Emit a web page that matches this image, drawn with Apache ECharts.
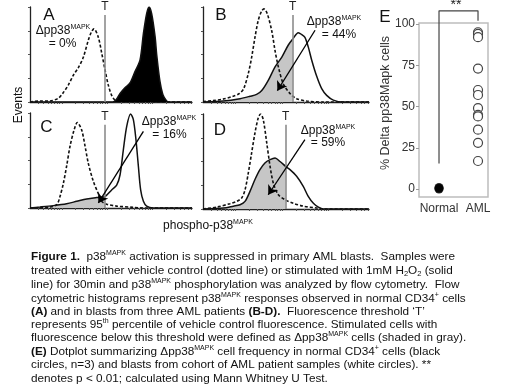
<!DOCTYPE html>
<html><head><meta charset="utf-8">
<script src="https://cdn.jsdelivr.net/npm/echarts@6/dist/echarts.min.js"></script>
<style>html,body{margin:0;padding:0;background:#fff}#c{width:520px;height:390px}</style>
</head><body><div id="c"></div>
<script>
// ---------- DATA ----------
// Histogram x = fluorescence position (0..100 of axis), y = % of panel height
const aControl = [[0,0],[6,1],[12,1],[17.5,4],[20.6,10],[23.7,18],[26.7,28],[29.8,36],[32.9,47],[36,65],[38,74],[39.5,77],[42.2,68],[44.2,52],[46.3,34],[48.3,18],[50.4,7],[52.5,2],[55.6,0.5],[60,0],[100,0]];
const aStim = [[0,0],[51,0],[53,2],[55.6,9],[58.6,15],[61.7,20],[64.8,32],[67.9,44],[70,72],[72,93],[73.5,100],[75.1,93],[77.2,69],[78.2,50],[80.2,22],[82,8],[84,2],[85.5,0],[100,0]];
const bControl = [[0,0.5],[6,1.5],[12,3],[18,6],[22,9],[24.5,14],[27.3,30],[29.3,47],[31.3,68],[33.3,86],[35.4,96],[36.7,98],[38.7,93],[41.4,75],[43.4,54],[45.4,37],[48.4,19],[52.4,9],[56.4,3.5],[62.5,1],[72.5,0],[100,0]];
const bStim = [[0,0],[12.2,1],[22.3,3.5],[28.3,6],[32.3,8],[35.4,12],[39.4,23],[43.4,37],[47.4,47],[51.4,60],[54,66],[57.4,73],[59.5,71],[61.4,68],[63.4,58],[65.5,44],[68.5,27],[71.5,14],[74.5,7],[78.5,2],[84.5,0],[100,0]];
const cControl = [[0,0],[12.3,1],[16.5,3.5],[18.5,12],[20.6,26],[22.6,44],[24.7,65],[27.2,82],[29.2,90],[31.9,82],[34,65],[36,47],[39.1,28],[42.2,15],[44.2,7],[47.3,4],[53.5,2],[63.8,0.7],[70,0],[100,0]];
const cStim = [[0,0],[6.2,1],[14.4,2.5],[22.6,4.5],[28.8,7],[35,9.5],[41.2,11],[44.2,11.5],[46.3,12],[50.4,19],[53.5,24],[55.6,35],[57.6,61],[59.7,86],[62.1,99],[63.8,93],[65.4,72],[66.9,44],[68.3,19],[70,7],[72,2],[76,0],[100,0]];
const dControl = [[0,0],[8.2,2],[16.3,5.6],[20.3,8],[23.3,11.6],[25.3,20],[27.3,38],[29.3,59],[31.3,80],[33.3,96],[34.7,100],[36.3,94],[38.4,69.5],[40.4,45],[42.4,27],[45.4,15],[49.4,9.8],[54.4,6],[60.4,3],[68.5,1],[72.5,0],[100,0]];
const dStim = [[0,0],[12.3,1],[18.3,3],[22.3,4.5],[25.3,8],[28.3,18.5],[31.3,31],[34.3,41.4],[37.3,48.4],[40.4,51.9],[43.4,53.6],[46.4,50],[49.8,44.8],[52.4,41.4],[56.4,34.4],[60.4,23.8],[63.4,13.3],[66.5,6],[69.5,2],[72.5,0],[100,0]];
const thresholds = [46.3, 54, 46.3, 49.8];
const panelLetters = ['A','B','C','D'];
const deltaValues = ['0%','44%','16%','59%'];

const eGroups = ['Normal','AML'];
const normalValues = [0, 0.5, 1];
const amlValues = [95, 94, 92, 73, 60, 57, 49, 45, 44, 36, 28, 17];
const eTicks = [0, 25, 50, 75, 100];

// ---------- LAYOUT ----------
const FONT = '"Liberation Sans", Arial, Helvetica, sans-serif';
const grids = [
  {left:30, top:7, width:162, height:95},
  {left:203, top:7, width:166, height:95},
  {left:30, top:113, width:162, height:95},
  {left:203, top:114, width:166, height:95},
  {left:419, top:23, width:69, height:174}
];
const tTop = [91.6, 91.6, 87.7, 88.7];
const arrows = [null, [[67.5,75.5],[44.8,11.9]], [[70,80.6],[42.2,5.3]], [[61.4,73],[39.3,15]]];
const letterPos = [[49,15],[221,15],[46.5,127.5],[220,130.5]];
const deltaPos = [[63,31,62.5,43.5],[334,22,339,34.5],[169,122,169.5,135],[328,131,328,143]];

const ctrl = [aControl,bControl,cControl,dControl];
const stim = [aStim,bStim,cStim,dStim];

function logTicks(){
  const out=[];
  for (let b=-8.4; b<100; b+=28){
    for (let k=1;k<10;k++){
      const v=b+28*Math.log10(k);
      if (v>=0.5 && v<=99.5) out.push(+v.toFixed(2));
    }
  }
  return out;
}
const xTicks = logTicks();

const xAxes=[], yAxes=[], series=[];
for (let i=0;i<4;i++){
  xAxes.push({gridIndex:i,type:'value',min:0,max:100,
    axisLine:{show:true,onZero:false,lineStyle:{color:'#222',width:1.3}},
    axisTick:{show:true,customValues:xTicks,length:2,lineStyle:{color:'#555',width:1}},
    axisLabel:{show:false},splitLine:{show:false}});
  yAxes.push({gridIndex:i,type:'value',min:0,max:100,interval:25,
    axisLine:{show:true,lineStyle:{color:'#222',width:1.3}},
    axisTick:{show:true,length:2,lineStyle:{color:'#555'}},
    axisLabel:{show:false},splitLine:{show:false}});
  const T = thresholds[i];
  if (i>0){
    series.push({type:'line',xAxisIndex:i,yAxisIndex:i,z:1,smooth:0.3,showSymbol:false,silent:true,
      data:stim[i].filter(p=>p[0]<=T),lineStyle:{width:0},areaStyle:{color:'#c6c6c6',opacity:1}});
  }
  series.push({type:'line',xAxisIndex:i,yAxisIndex:i,z:3,smooth:0.3,showSymbol:false,silent:true,
    data:ctrl[i],lineStyle:{color:'#111',width:1.6,type:[3,2]},
    markLine:{silent:true,symbol:'none',animation:false,
      lineStyle:{color:'#8c8c8c',width:1.6,type:'solid'},
      label:{show:true,position:'end',formatter:'T',color:'#222',fontSize:12,fontFamily:FONT,distance:2},
      data:[[{coord:[T,0]},{coord:[T,tTop[i]]}]]}});
  const s = {type:'line',xAxisIndex:i,yAxisIndex:i,z:4,smooth:0.3,showSymbol:false,silent:true,
    data:stim[i],lineStyle:{color:'#111',width:1.5}};
  if (i===0) s.areaStyle={color:'#000',opacity:1};
  if (arrows[i]) s.markLine={silent:true,animation:false,symbol:['none','arrow'],symbolSize:9,
    lineStyle:{color:'#000',width:1.3,type:'solid'},label:{show:false},
    data:[[{coord:arrows[i][0]},{coord:arrows[i][1]}]]};
  series.push(s);
}
// Panel E
xAxes.push({gridIndex:4,type:'value',min:0.487,max:2.256,
  axisLine:{show:false},axisTick:{show:false},splitLine:{show:false},
  axisLabel:{customValues:[1,2],formatter:v=>eGroups[Math.round(v)-1],fontSize:12,color:'#333',fontFamily:FONT,margin:6}});
yAxes.push({gridIndex:4,type:'value',min:-4.8,max:100.6,
  axisLine:{show:false},splitLine:{show:false},
  axisTick:{show:true,customValues:eTicks,length:3,lineStyle:{color:'#999'}},
  axisLabel:{customValues:eTicks,fontSize:12,color:'#333',fontFamily:FONT,margin:4}});
series.push({type:'line',xAxisIndex:4,yAxisIndex:4,clip:false,showSymbol:false,silent:true,z:2,
  data:[[1,15.5],[1,108],[2,108],[2,102]],lineStyle:{color:'#444',width:1.2}});
series.push({type:'scatter',xAxisIndex:4,yAxisIndex:4,z:3,symbolSize:9,silent:true,
  data:normalValues.map(v=>[1,v]),itemStyle:{color:'#000'}});
series.push({type:'scatter',xAxisIndex:4,yAxisIndex:4,z:3,symbolSize:9,silent:true,
  data:amlValues.map(v=>[2,v]),itemStyle:{color:'#fff',borderColor:'#444',borderWidth:1.2,opacity:1}});

// ---------- TEXT ----------
const CAP_FS = 11.75;
const rich = {
  b:{fontWeight:'bold',fontSize:CAP_FS,fontFamily:FONT,color:'#111'},
  sup:{fontSize:7,fontFamily:FONT,verticalAlign:'top',color:'#111'},
  sub:{fontSize:7.5,fontFamily:FONT,verticalAlign:'bottom',color:'#111'}
};
function txt(x,y,text,o){
  o=o||{};
  const fs=o.fs||12;
  return {type:'text',x:x,y:y,rotation:o.rot||0,silent:true,z:100,
    style:{text:text,fontSize:fs,fontFamily:FONT,fontWeight:o.bold?'bold':'normal',fill:o.fill||'#111',
      align:o.align||'center',textAlign:o.align||'center',verticalAlign:'middle',textVerticalAlign:'middle',
      lineHeight:o.lh||14,rich:rich}};
}
const graphics=[];
for (let i=0;i<4;i++){
  graphics.push(txt(letterPos[i][0],letterPos[i][1],panelLetters[i],{fs:17}));
  const d=deltaPos[i];
  graphics.push(txt(d[0],d[1],'Δpp38{sup|MAPK}',{fs:12}));
  graphics.push(txt(d[2],d[3],'= '+deltaValues[i],{fs:12}));
}
graphics.push(txt(19,105,'Events',{fs:12,rot:Math.PI/2}));
graphics.push(txt(208,226,'phospho-p38{sup|MAPK}',{fs:12}));
graphics.push(txt(385,17,'E',{fs:17}));
graphics.push(txt(386,103,'% Delta pp38Mapk cells',{fs:12.5,rot:Math.PI/2,fill:'#333'}));
graphics.push(txt(456,5,'**',{fs:14,fill:'#222'}));

const caption = [
  '{b|Figure 1.}  p38{sup|MAPK} activation is suppressed in primary AML blasts.  Samples were',
  'treated with either vehicle control (dotted line) or stimulated with 1mM H{sub|2}O{sub|2} (solid',
  'line) for 30min and p38{sup|MAPK} phosphorylation was analyzed by flow cytometry.  Flow',
  'cytometric histograms represent p38{sup|MAPK} responses observed in normal CD34{sup|+} cells',
  '{b|(A)} and in blasts from three AML patients {b|(B-D).}  Fluorescence threshold ‘T’',
  'represents 95{sup|th} percentile of vehicle control fluorescence. Stimulated cells with',
  'fluorescence below this threshold were defined as Δpp38{sup|MAPK} cells (shaded in gray).',
  '{b|(E)} Dotplot summarizing Δpp38{sup|MAPK} cell frequency in normal CD34{sup|+} cells (black',
  'circles, n=3) and blasts from cohort of AML patient samples (white circles). **',
  'denotes p < 0.01; calculated using Mann Whitney U Test.'
];
const capY=[256.7,271,285,298.7,311.7,324.3,337.7,351.7,365,378.7];
caption.forEach((l,i)=>graphics.push(txt(31,capY[i],l,{fs:CAP_FS,align:'left'})));

const chart = echarts.init(document.getElementById('c'),null,{renderer:'canvas'});
chart.setOption({
  animation:false,
  backgroundColor:'#fff',
  grid:grids.map((g,i)=>Object.assign({containLabel:false,show:i===4,borderColor:'#bdbdbd',borderWidth:1.5,backgroundColor:'transparent'},g)),
  xAxis:xAxes, yAxis:yAxes, series:series, graphic:graphics
});
</script></body></html>
